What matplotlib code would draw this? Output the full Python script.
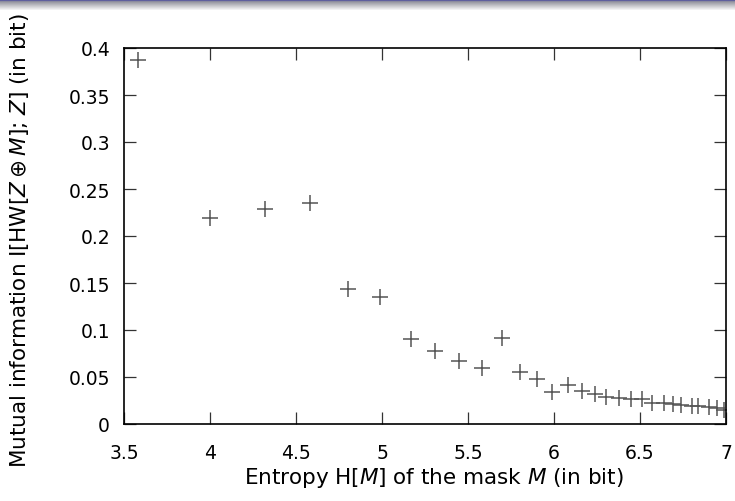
"""Mutual information vs. mask entropy (gnuplot-style scatter)."""

import matplotlib
matplotlib.use('Agg')
import matplotlib.pyplot as plt
import matplotlib.ticker as mticker
import numpy as np

# entropy of the mask (bit)
entropy = [3.58, 4.00, 4.32, 4.58, 4.80, 4.99, 5.17, 5.31, 5.45, 5.58,
           5.70, 5.80, 5.90, 5.99, 6.08, 6.16, 6.24, 6.30, 6.38, 6.45,
           6.51, 6.57, 6.64, 6.69, 6.74, 6.80, 6.84, 6.90, 6.95, 6.99]
# mutual information (bit)
mutual_info = [0.387, 0.219, 0.229, 0.235, 0.144, 0.135, 0.090, 0.078, 0.067, 0.060,
               0.092, 0.055, 0.048, 0.034, 0.042, 0.035, 0.032, 0.029, 0.028, 0.027,
               0.027, 0.022, 0.022, 0.021, 0.020, 0.019, 0.019, 0.018, 0.017, 0.015]

x_ticks = [3.5, 4, 4.5, 5, 5.5, 6, 6.5, 7]
y_ticks = [0, 0.05, 0.1, 0.15, 0.2, 0.25, 0.3, 0.35, 0.4]

plt.rcParams['font.family'] = ['DejaVu Sans']
plt.rcParams['mathtext.fontset'] = 'dejavusans'

fig = plt.figure(figsize=(7.35, 5.02), dpi=100)

# beamer header shadow strip at the top
bar_ax = fig.add_axes([0, 1 - 12 / 502, 1, 12 / 502])
rows = np.linspace(0, 1, 12)
top = np.array([0.20, 0.20, 0.62])
mid = np.array([0.58, 0.58, 0.62])
grad = np.zeros((12, 2, 3))
for i, t in enumerate(rows):
    if t < 0.2:
        c = top + (mid - top) * (t / 0.2)
    else:
        c = mid + (np.ones(3) - mid) * ((t - 0.2) / 0.8)
    grad[i, :, :] = c
bar_ax.imshow(grad, aspect='auto', extent=[0, 1, 0, 1])
bar_ax.set_axis_off()

ax = fig.add_axes([124 / 735, 77 / 502, 602 / 735, 376 / 502])
ax.plot(entropy, mutual_info, linestyle='none', marker='+', markersize=11.5,
        markeredgewidth=1.1, color='#555555')

ax.set_xlim(3.5, 7)
ax.set_ylim(0, 0.4)
ax.set_xticks(x_ticks)
ax.set_yticks(y_ticks)
fmt = mticker.FuncFormatter(lambda v, p: f'{v:g}')
ax.xaxis.set_major_formatter(fmt)
ax.yaxis.set_major_formatter(fmt)
ax.tick_params(direction='in', length=8.5, width=0.9, top=True, right=True,
               color='#333333', labelsize=13.5)
ax.tick_params(axis='x', pad=14)
ax.tick_params(axis='y', pad=10)
for spine in ax.spines.values():
    spine.set_linewidth(1.2)

ax.set_xlabel('Entropy H[$M$] of the mask $M$ (in bit)', fontsize=15.5,
              va='center')
ax.set_ylabel(r'Mutual information I[HW[$Z \oplus M$]; $Z$] (in bit)',
              fontsize=15.5, va='center')
ax.xaxis.set_label_coords(0.515, -0.14)
ax.yaxis.set_label_coords(-0.173, 0.49)

fig.savefig('out.png', dpi=100)
